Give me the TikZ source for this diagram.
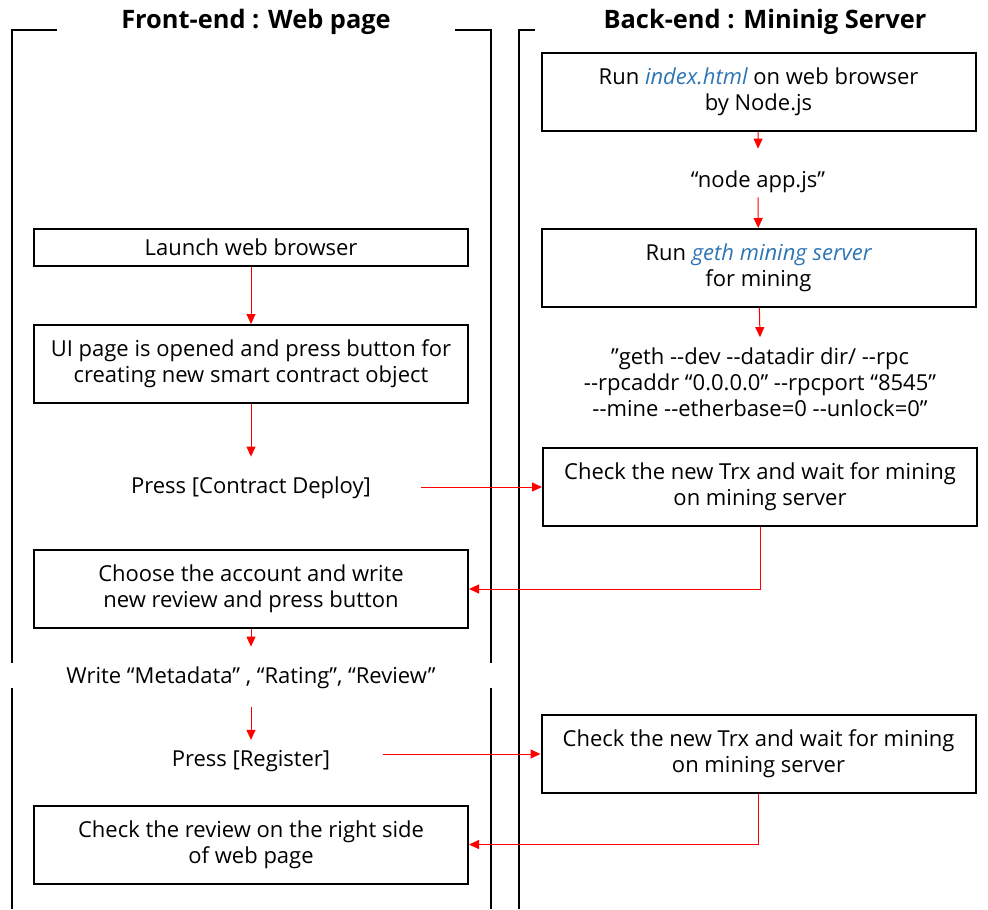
\documentclass[tikz,border=0pt]{standalone}
\usepackage{fontspec}
\setmainfont{Open Sans}[Ligatures=TeXOff]
\usetikzlibrary{arrows.meta}
\definecolor{fileblue}{RGB}{46,117,182}
\tikzset{%
  stepbox/.style={draw,line width=1pt,minimum width=217pt,minimum height=39pt,align=center,inner sep=2pt},
  plain/.style={inner sep=0pt,align=center},
  title/.style={font=\fontsize{12.7}{14}\selectfont\bfseries},
  panel/.style={line width=1pt},
  arr/.style={red,line width=.5pt,-{Triangle[length=5pt,width=4.5pt]}},
  fname/.style={color=fileblue}
}
\newcommand{\fn}[1]{\textcolor{fileblue}{\itshape #1}}

\begin{document}
\begin{tikzpicture}[x=0.5pt,y=-0.5pt,font=\fontsize{11}{13}\selectfont]
  \useasboundingbox (0,0) rectangle (988,909);

  % panels
  \node[title] (fronttitle) at (256,22) {Front-end : Web page};
  \node[title] (backtitle) at (765,22) {Back-end : Mininig Server};
  \draw[panel] (57,30) -| (12,663);
  \draw[panel] (12,688) -- (12,909);
  \draw[panel] (455,30) -| (491,663);
  \draw[panel] (491,688) -- (491,909);
  \draw[line width=.75pt] (535,30) -| (519,909);

  % back-end
  \node[stepbox] (runindex) at (758.5,92) {Run \fn{index.html} on web browser\\by Node.js};
  \node[plain] (nodeapp) at (758,182) {“node app.js”};
  \node[stepbox] (rungeth) at (758.5,268) {Run \fn{geth mining server}\\for mining};
  \node[plain] (gethcmd) at (760,382) {”geth --dev --datadir dir/ --rpc\\--rpcaddr “0.0.0.0” --rpcport “8545”\\--mine --etherbase=0 --unlock=0”};
  \node[stepbox] (checktrx) at (760,487) {Check the new Trx and wait for mining\\on mining server};
  \node[stepbox] (checktrx2) at (758.5,754) {Check the new Trx and wait for mining\\on mining server};

  % front-end
  \node[stepbox,minimum height=18.5pt] (launch) at (251,247.5) {Launch web browser};
  \node[stepbox] (uipage) at (251,364) {UI page is opened and press button for\\creating new smart contract object};
  \node[plain] (deploy) at (251,488) {Press [Contract Deploy]};
  \node[stepbox] (choose) at (251,589) {Choose the account and write\\new review and press button};
  \node[plain] (writemeta) at (251,678) {Write “Metadata” , “Rating”, “Review”};
  \node[plain] (register) at (251,761) {Press [Register]};
  \node[stepbox] (checkrev) at (251,844.5) {Check the review on the right side\\of web page};

  % arrows
  \draw[arr] (runindex) -- ([yshift=11pt]nodeapp.north);
  \draw[arr] ([yshift=-2pt]nodeapp.south) -- (rungeth);
  \draw[arr] (rungeth) -- ([yshift=5pt]gethcmd.north);
  \draw[arr] (launch) -- (uipage);
  \draw[arr] (uipage) -- ([yshift=10pt]deploy.north);
  \path (deploy.east) ++(25pt,0) coordinate (depout);
  \draw[arr] (depout |- checktrx.west) -- (checktrx.west);
  \draw[arr] (checktrx.south) |- (choose.east);
  \draw[arr] (choose) -- ([yshift=10pt]writemeta.north);
  \draw[arr] ([yshift=-9pt]writemeta.south) -- ([yshift=5pt]register.north);
  \path (register.east) ++(26pt,0) coordinate (regout);
  \draw[arr] (regout |- checktrx2.west) -- (checktrx2.west);
  \draw[arr] (checktrx2.south) |- (checkrev.east);
\end{tikzpicture}
\end{document}
